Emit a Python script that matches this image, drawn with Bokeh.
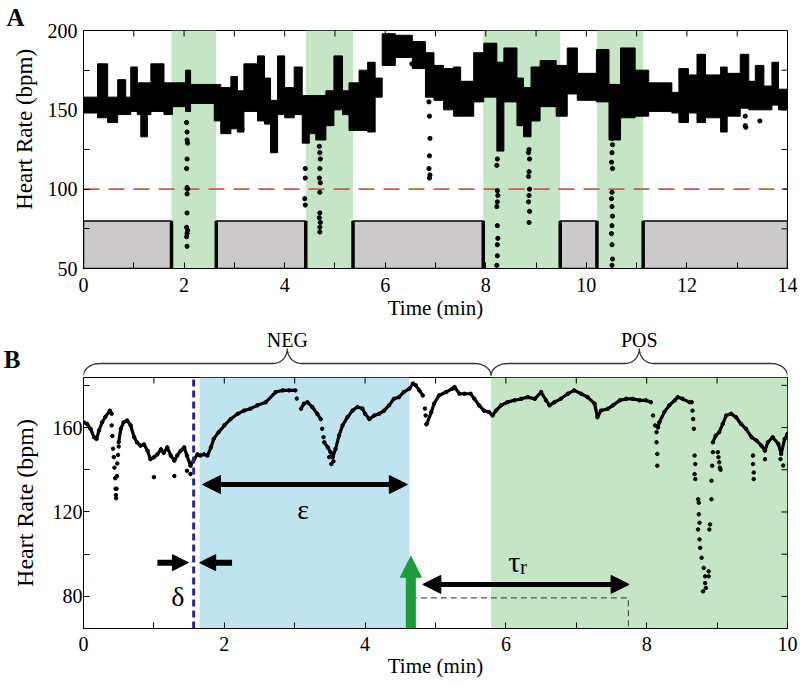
import numpy as np
from bokeh.plotting import figure
from bokeh.layouts import column
from bokeh.models import Range1d, FixedTicker, Arrow, NormalHead, Title
from bokeh.core.properties import value
from bokeh.embed import file_html
from bokeh.resources import INLINE

# ======================= Panel A data =======================
# heart-rate band (segments: edges in min, upper / lower envelope in bpm)
a_edges = [0, 0.28, 0.48, 0.68, 0.84, 0.94, 1.07, 1.14, 1.27, 1.34, 1.60, 1.77, 2.03, 2.13,
           2.60, 2.73, 2.93, 3.06, 3.19, 3.46, 3.60, 3.72, 3.86, 4.00, 4.19, 4.35, 4.49, 4.62,
           4.82, 4.98, 5.15, 5.28, 5.48, 5.65, 5.80, 5.94, 6.20, 6.54, 6.80, 6.97, 7.16, 7.36,
           7.50, 7.76, 7.96, 8.22, 8.36, 8.62, 8.75, 8.90, 9.08, 9.40, 9.62, 9.82, 10.20, 10.45,
           10.68, 10.97, 11.24, 11.70, 11.84, 12.03, 12.20, 12.37, 12.67, 12.80, 13.06, 13.23,
           13.36, 13.53, 13.69, 13.82, 14.00]
a_hi = [158, 179, 158, 169, 158, 177, 167, 167, 167, 179, 167, 167, 175, 166, 166, 164, 171, 162,
        179, 184, 170, 156, 184, 164, 177, 159, 159, 159, 162, 184, 162, 167, 175, 180, 170, 198,
        197, 193, 186, 178, 176, 177, 168, 186, 192, 180, 189, 170, 164, 177, 181, 178, 189, 173,
        188, 166, 189, 175, 167, 161, 176, 172, 185, 172, 177, 173, 185, 168, 178, 165, 180, 163]
a_lo = [148, 145, 142, 147, 147, 149, 147, 133, 147, 149, 147, 152, 149, 154, 143, 135, 138, 136,
        149, 143, 141, 123, 147, 145, 147, 129, 135, 131, 140, 150, 147, 137, 137, 136, 158, 178,
        183, 176, 158, 156, 150, 146, 146, 155, 158, 124, 155, 140, 133, 143, 152, 146, 160, 156,
        155, 131, 145, 146, 149, 148, 142, 148, 142, 145, 136, 146, 151, 150, 150, 150, 153, 150]
# isolated beats (min, bpm)
a_dot_t = [2.05, 2.06, 2.06, 2.07, 2.06, 2.05, 2.06, 2.07, 2.06, 2.06, 2.05, 2.07, 2.06, 2.05, 2.06,
           3.15,
           4.41, 4.41, 4.40, 4.41,
           4.69, 4.70, 4.71, 4.70, 4.69, 4.71, 4.70, 4.70, 4.69, 4.71, 4.70, 4.70,
           6.53,
           6.87, 6.88, 6.89, 6.88, 6.87, 6.89, 6.88,
           8.23, 8.22, 8.23, 8.24, 8.23, 8.22, 8.23, 8.24, 8.23, 8.23, 8.22,
           8.86, 8.85, 8.87, 8.86, 8.85, 8.87, 8.86, 8.85, 8.87, 8.86,
           10.50, 10.51, 10.52, 10.51, 10.50, 10.52, 10.51, 10.50, 10.51, 10.52, 10.51, 10.50,
           10.51, 10.52, 10.51,
           13.16, 13.16, 13.17,
           13.45]
a_dot_hr = [142, 136, 131, 129, 119, 113, 101, 100, 97, 85, 76, 74, 72, 70, 64,
            138,
            113, 107, 94, 90,
            127, 123, 119, 113, 107, 104, 98, 85, 82, 79, 76, 73,
            179,
            155, 146, 132, 121, 113, 109, 107,
            119, 115, 99, 96, 92, 89, 77, 69, 65, 58, 52,
            125, 123, 119, 111, 108, 100, 96, 92, 86, 79,
            136, 132, 128, 123, 117, 113, 98, 94, 89, 83, 77, 72, 65, 56, 52,
            146, 140, 139,
            143]
a_stim_start = [1.75, 4.42, 7.95, 10.21]
a_stim_end = [2.64, 5.36, 9.48, 11.13]
a_rest_start = [0.0, 2.64, 5.36, 9.48, 11.13]
a_rest_end = [1.75, 4.42, 7.95, 10.21, 14.0]
a_rest_level = 80
a_threshold = 100
a_xticks = [0, 2, 4, 6, 8, 10, 12, 14]
a_xminor = [1, 3, 5, 7, 9, 11, 13]
a_yticks = [50, 100, 150, 200]
a_yminor = [75, 125, 175]

# ======================= Panel B data =======================
b_seg1_t = [0.0, 0.05, 0.10, 0.15, 0.185, 0.22, 0.265, 0.31, 0.375, 0.40]
b_seg1_hr = [162.5, 161.7, 159.4, 155.4, 154.6, 158.6, 162.5, 165.0, 168.0, 166.5]
b_seg2_t = [0.50, 0.53, 0.57, 0.62, 0.67, 0.72, 0.76, 0.81, 0.86, 0.91, 0.95, 1.00, 1.05, 1.10,
            1.14, 1.19, 1.24, 1.29, 1.33, 1.38, 1.43, 1.47, 1.52, 1.57, 1.62, 1.66, 1.71, 1.76,
            1.81, 1.85, 1.92, 2.00, 2.09, 2.19, 2.28, 2.37, 2.47, 2.59, 2.73, 2.83, 2.92, 3.01]
b_seg2_hr = [153.0, 159.4, 162.5, 163.3, 161.0, 155.4, 153.0, 151.4, 152.0, 149.0, 145.0, 145.9,
             147.3, 149.7, 148.0, 150.6, 146.7, 144.3, 146.7, 149.0, 150.6, 146.7, 141.9, 145.0,
             147.3, 146.7, 147.3, 146.7, 150.6, 154.6, 157.8, 161.0, 164.0, 166.5, 168.0, 168.9,
             170.5, 172.0, 176.8, 177.6, 177.6, 177.6]
b_seg3_t = [3.09, 3.13, 3.18, 3.25, 3.32, 3.37]
b_seg3_hr = [168.9, 171.3, 172.0, 169.7, 166.5, 164.0]
b_seg4_t = [3.42, 3.47, 3.51, 3.54, 3.58, 3.63, 3.68, 3.75, 3.82, 3.89, 3.96, 4.00, 4.06, 4.13,
            4.20, 4.27, 4.34, 4.41, 4.48, 4.55, 4.63, 4.68, 4.72, 4.77, 4.82]
b_seg4_hr = [153.0, 150.6, 148.3, 145.9, 149.8, 156.2, 161.0, 164.9, 168.0, 169.7, 169.0, 166.5,
             164.0, 165.7, 166.5, 168.0, 170.5, 173.6, 174.4, 176.8, 178.4, 180.8, 180.0, 177.6,
             175.2]
b_seg5_t = [4.88, 4.94, 4.98, 5.05, 5.15, 5.24, 5.27, 5.34, 5.41, 5.50, 5.55, 5.62, 5.69, 5.76,
            5.81, 5.86, 5.93, 6.02, 6.12, 6.22, 6.31, 6.41, 6.50, 6.57, 6.62, 6.69, 6.78, 6.88,
            6.97, 7.07, 7.16, 7.26, 7.30, 7.35, 7.45, 7.52, 7.62, 7.71, 7.80, 7.90, 7.99, 8.06]
b_seg5_hr = [162.0, 167.3, 171.3, 175.2, 176.8, 178.4, 179.2, 176.0, 176.0, 176.0, 173.7, 170.5,
             168.0, 167.3, 165.7, 168.0, 170.5, 172.0, 172.9, 173.6, 174.4, 173.6, 176.8, 172.9,
             170.5, 172.0, 173.6, 176.0, 177.6, 176.0, 174.4, 171.3, 164.9, 168.0, 168.9, 170.5,
             172.9, 173.6, 173.6, 172.9, 172.9, 172.0]
b_seg6_t = [8.16, 8.18, 8.25, 8.32, 8.40, 8.44, 8.51, 8.61, 8.64]
b_seg6_hr = [160.0, 162.5, 167.3, 170.5, 172.9, 174.4, 173.6, 172.0, 172.0]
b_seg7_t = [8.94, 8.98, 9.03, 9.08, 9.13, 9.20, 9.27, 9.34, 9.41, 9.49, 9.56, 9.63, 9.68, 9.72,
            9.79, 9.87, 9.91, 9.96, 10.0]
b_seg7_hr = [153.0, 156.2, 157.8, 161.7, 165.7, 166.5, 164.9, 161.7, 159.4, 155.4, 153.8, 151.4,
             149.0, 153.0, 155.4, 152.2, 147.5, 154.6, 157.0]
b_dot_t = [0.40, 0.41, 0.42, 0.43, 0.44, 0.45, 0.455, 0.46, 0.465, 0.47, 0.475, 0.48, 0.49, 0.50,
           1.00, 1.29, 1.47, 1.52,
           3.03, 3.39, 3.41, 3.49, 3.52, 3.55,
           4.85, 4.86, 4.87,
           8.09, 8.12, 8.14, 8.14, 8.15, 8.15,
           8.65, 8.66, 8.67,
           8.68, 8.69, 8.68, 8.69, 8.73, 8.74, 8.74, 8.75, 8.73, 8.75, 8.76, 8.78, 8.81, 8.83,
           8.83, 8.84, 8.80,
           8.88, 8.88, 8.89, 8.90, 8.92, 8.92, 8.93, 8.94,
           9.01, 9.02, 9.03, 9.04, 9.05,
           9.51, 9.51, 9.52, 9.52, 9.68, 9.90, 9.94]
b_dot_hr = [161, 156, 150, 146, 141, 136, 131, 128, 126.5, 131, 137, 143, 147, 151,
            136.5, 137, 139.5, 138,
            173.7, 159.4, 155.4, 146, 142.7, 144,
            169, 165.7, 161.5,
            165.7, 161, 157.8, 153, 147.5, 141.9,
            168, 164, 159.4,
            146.7, 142.7, 137.9, 135.6, 126.0, 124.4, 118.9, 114.9, 111.7, 107.0, 103.0, 98.3,
            93.5, 89.5, 86.3, 84.0, 82.4,
            91.9, 89.5, 111.7, 114.1, 126.0, 134.8, 141.9, 148.3,
            148.3, 145.9, 143.5, 141.0, 140.0,
            146.7, 142.7, 138.7, 135.6, 145, 145, 142]
b_cue = 1.565
b_neg_window = [1.65, 4.63]
b_pos_window = [5.79, 10.0]
b_brace_neg = [0.0, 5.79]
b_brace_pos = [5.79, 10.0]
b_eps = [1.69, 4.60, 133.0]
b_delta_in = [1.05, 1.49, 96.0]
b_delta_out = [2.11, 1.65, 96.0]
b_stim = [4.65, 99.0]
b_tau = [4.82, 7.75, 85.7]
b_resp = [4.65, 7.74, 79.3]
b_xticks = [0, 2, 4, 6, 8, 10]
b_xminor = [1, 3, 5, 7, 9]
b_yticks = [80, 120, 160]
b_yminor = [100, 140, 180]

# ======================= styling =======================
SERIF = "Liberation Serif"
GREEN = "#c5e6c5"
BLUE = "#bfe4ef"
GRAY = "#cdcacb"
RED = "#cf5a45"
NAVY = "#27278f"
ARROWGREEN = "#1e9c3c"
W = 800
LB, RB = 83, 13

A_X = (0, 14); A_Y = (50, 200); A_FW = W - LB - RB; A_FH = 238
B_X = (0, 10); B_Y = (64.8, 183.7); B_FW = W - LB - RB; B_FH = 251
NBSP = "\u00a0"


def style(p, xt, xm, yt, ym, tick_fs, xl_fs, yl_fs, xstand, xlstand, ystand, ylstand,
          ylabel="Heart Rate (bpm)"):
    p.grid.visible = False
    p.outline_line_color = "black"
    p.outline_line_width = 1
    p.xaxis.ticker = FixedTicker(ticks=xt, minor_ticks=xm)
    p.yaxis.ticker = FixedTicker(ticks=yt, minor_ticks=ym)
    for ax in p.axis:
        ax.major_tick_in = 6
        ax.major_tick_out = 0
        ax.minor_tick_in = 6
        ax.minor_tick_out = 0
        ax.axis_line_color = "black"
        ax.major_tick_line_color = "black"
        ax.minor_tick_line_color = "black"
        ax.major_label_text_font = SERIF
        ax.major_label_text_font_size = tick_fs
        ax.major_label_text_color = "black"
        ax.axis_label_text_font = SERIF
        ax.axis_label_text_font_style = "normal"
        ax.axis_label_text_color = "black"
    p.xaxis.axis_label_text_font_size = xl_fs
    p.yaxis.axis_label_text_font_size = yl_fs
    p.xaxis.major_label_standoff = xstand
    p.xaxis.axis_label_standoff = xlstand
    p.yaxis.major_label_standoff = ystand
    p.yaxis.axis_label_standoff = ylstand
    p.xaxis.axis_label = "Time (min)"
    p.yaxis.axis_label = ylabel


def mirror_ticks(p, xr, yr, xt, yt, fw, fh, L=6):
    dy = L * (yr[1] - yr[0]) / fh
    dx = L * (xr[1] - xr[0]) / fw
    p.segment(x0=xt, y0=[yr[1]] * len(xt), x1=xt, y1=[yr[1] - dy] * len(xt),
              line_color="black", line_width=1)
    p.segment(x0=[xr[1]] * len(yt), y0=yt, x1=[xr[1] - dx] * len(yt), y1=yt,
              line_color="black", line_width=1)


# ---------- panel A ----------
A_H = 324
pA = figure(width=W, height=A_H, x_range=Range1d(*A_X), y_range=Range1d(*A_Y),
            min_border_left=LB, min_border_right=RB, min_border_top=30,
            min_border_bottom=A_H - 30 - A_FH,
            toolbar_location=None, output_backend="svg")
style(pA, a_xticks, a_xminor, a_yticks, a_yminor, "20px", "21px", "23px", 9, 1, 6, 8,
      ylabel=NBSP * 7 + "Heart Rate (bpm)")
pA.add_layout(Title(text="A", align="left", offset=-77, standoff=0, text_font=SERIF,
                    text_font_size="25px", text_font_style="bold", text_color="black"),
              "above")

pA.quad(left=a_stim_start, right=a_stim_end, bottom=A_Y[0], top=A_Y[1],
        fill_color=GREEN, line_color=None)
pA.quad(left=a_rest_start, right=a_rest_end, bottom=A_Y[0], top=a_rest_level,
        fill_color=GRAY, line_color="black", line_width=1.5)
edges = [e for e in a_rest_start + a_rest_end if A_X[0] < e < A_X[1]]
pA.segment(x0=edges, y0=[A_Y[0]] * len(edges), x1=edges, y1=[a_rest_level] * len(edges),
           line_color="black", line_width=3.5)
pA.line(x=list(A_X), y=[a_threshold, a_threshold], line_color=RED, line_width=1.6,
        line_dash="16 9")
pA.quad(left=a_edges[:-1], right=a_edges[1:], bottom=a_lo, top=a_hi,
        fill_color="black", line_color="black", line_width=1)
pA.scatter(x=a_dot_t, y=a_dot_hr, marker="circle", size=4.2, fill_color="black",
           line_color="black")
mirror_ticks(pA, A_X, A_Y, a_xticks + a_xminor, a_yticks + a_yminor, A_FW, A_FH)

# ---------- brace strip (NEG / POS, label B on an axis tick) ----------
BR_H = 52
br = figure(width=W, height=BR_H, x_range=Range1d(*B_X), y_range=Range1d(0, BR_H),
            x_axis_location=None, y_axis_location="left", min_border=0,
            min_border_left=LB, min_border_right=RB,
            toolbar_location=None, output_backend="svg")
br.grid.visible = False
br.outline_line_color = None
br.yaxis.ticker = FixedTicker(ticks=[10])
br.yaxis.major_label_overrides = {10: "B"}
br.yaxis.axis_line_color = None
br.yaxis.major_tick_line_color = None
br.yaxis.minor_tick_line_color = None
br.yaxis.major_label_standoff = 57
br.yaxis.major_label_text_font = SERIF
br.yaxis.major_label_text_font_size = "25px"
br.yaxis.major_label_text_font_style = "bold"
br.yaxis.major_label_text_color = "black"


def brace(a, b, y0=1.0, y1=13.0, y2=28.0, r1=0.24, r2=0.2):
    m = (a + b) / 2
    th = np.linspace(0, np.pi / 2, 24)
    x1 = a + r1 * (1 - np.cos(th)); yy1 = y0 + (y1 - y0) * np.sin(th)
    x2 = m - r2 + r2 * np.sin(th); yy2 = y1 + (y2 - y1) * (1 - np.cos(th))
    lx = np.concatenate([x1, x2]); ly = np.concatenate([yy1, yy2])
    return np.concatenate([lx, 2 * m - lx[::-1]]), np.concatenate([ly, ly[::-1]])


for (a, b), lab in [(b_brace_neg, "NEG"), (b_brace_pos, "POS")]:
    bx, by = brace(a, b)
    br.line(x=bx, y=by, line_color="#333333", line_width=1.3)
    br.text(x=[(a + b) / 2], y=[37], text=[lab], text_font=value(SERIF),
            text_font_size=value("20px"), text_align="center", text_baseline="alphabetic",
            text_color="black")

# ---------- panel B ----------
B_H = 687 - A_H - BR_H
pB = figure(width=W, height=B_H, x_range=Range1d(*B_X), y_range=Range1d(*B_Y),
            min_border_left=LB, min_border_right=RB, min_border_top=1,
            min_border_bottom=B_H - 1 - B_FH,
            toolbar_location=None, output_backend="svg")
style(pB, b_xticks, b_xminor, b_yticks, b_yminor, "20px", "21px", "24px", 8, 0, 1, 12)

pB.quad(left=[b_neg_window[0]], right=[b_neg_window[1]], bottom=B_Y[0], top=B_Y[1],
        fill_color=BLUE, line_color=None)
pB.quad(left=[b_pos_window[0]], right=[b_pos_window[1]], bottom=B_Y[0], top=B_Y[1],
        fill_color=GREEN, line_color=None)

segs = [(b_seg1_t, b_seg1_hr), (b_seg2_t, b_seg2_hr), (b_seg3_t, b_seg3_hr),
        (b_seg4_t, b_seg4_hr), (b_seg5_t, b_seg5_hr), (b_seg6_t, b_seg6_hr),
        (b_seg7_t, b_seg7_hr)]
tx, ty = [], []
for st, sh in segs:
    tx += list(st) + [np.nan]
    ty += list(sh) + [np.nan]
pB.line(x=tx, y=ty, line_color="black", line_width=3.2)
allx = [v for st, _ in segs for v in st]
ally = [v for _, sh in segs for v in sh]
pB.scatter(x=allx, y=ally, marker="circle", size=3.5, fill_color="black", line_color="black")
pB.scatter(x=b_dot_t, y=b_dot_hr, marker="circle", size=3.5, fill_color="black",
           line_color="black")

pB.line(x=[b_cue, b_cue], y=list(B_Y), line_color=NAVY, line_width=3, line_dash="7 4")
pB.line(x=[b_resp[0], b_resp[1], b_resp[1]], y=[b_resp[2], b_resp[2], B_Y[0]],
        line_color="#555555", line_width=1.2, line_dash="6 4")

pB.add_layout(Arrow(start=NormalHead(size=18, fill_color="black", line_color="black"),
                    end=NormalHead(size=18, fill_color="black", line_color="black"),
                    x_start=b_eps[0], y_start=b_eps[2], x_end=b_eps[1], y_end=b_eps[2],
                    line_width=5, line_color="black"))
for d in (b_delta_in, b_delta_out):
    pB.add_layout(Arrow(end=NormalHead(size=16, fill_color="black", line_color="black"),
                        x_start=d[0], y_start=d[2], x_end=d[1], y_end=d[2],
                        line_width=6, line_color="black"))
pB.add_layout(Arrow(start=NormalHead(size=18, fill_color="black", line_color="black"),
                    end=NormalHead(size=18, fill_color="black", line_color="black"),
                    x_start=b_tau[0], y_start=b_tau[2], x_end=b_tau[1], y_end=b_tau[2],
                    line_width=5, line_color="black"))
pB.add_layout(Arrow(end=NormalHead(size=21, fill_color=ARROWGREEN, line_color=ARROWGREEN),
                    x_start=b_stim[0], y_start=B_Y[0], x_end=b_stim[0], y_end=b_stim[1],
                    line_width=10, line_color=ARROWGREEN))

pB.text(x=[3.12], y=[121.0], text=["ε"], text_font=value(SERIF), text_font_size=value("28px"),
        text_align="center", text_baseline="alphabetic", text_color="black")
pB.text(x=[1.34], y=[80.0], text=["δ"], text_font=value(SERIF), text_font_size=value("28px"),
        text_align="center", text_baseline="alphabetic", text_color="black")
pB.text(x=[6.12], y=[96.5], text=["τ"], text_font=value(SERIF), text_font_size=value("30px"),
        text_align="center", text_baseline="alphabetic", text_color="black")
pB.text(x=[6.2], y=[94.0], text=["r"], text_font=value(SERIF), text_font_size=value("21px"),
        text_align="left", text_baseline="alphabetic", text_color="black")
mirror_ticks(pB, B_X, B_Y, b_xticks + b_xminor, b_yticks + b_yminor, B_FW, B_FH)

layout = column(pA, br, pB, spacing=0)
open("out.html", "w").write(file_html(layout, INLINE))
